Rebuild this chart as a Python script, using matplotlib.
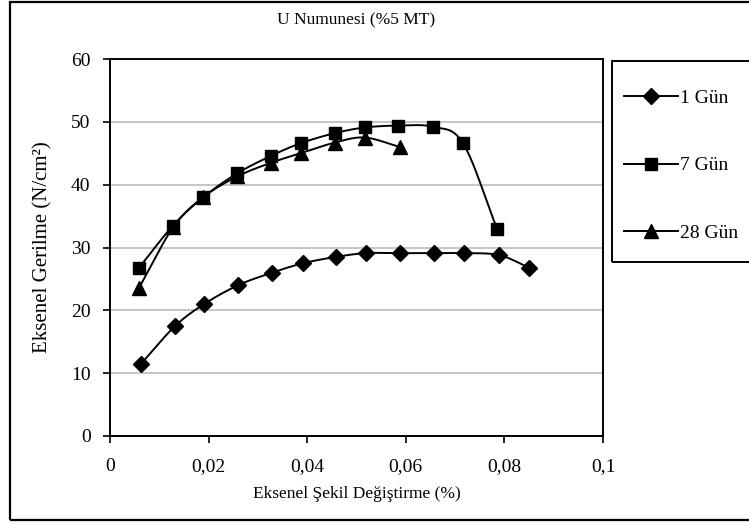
import numpy as np
import matplotlib
matplotlib.use("Agg")
import matplotlib.pyplot as plt
from matplotlib.lines import Line2D
from matplotlib.patches import Rectangle
from matplotlib.ticker import FuncFormatter, MultipleLocator

plt.rcParams['font.family'] = ['Liberation Serif', 'DejaVu Serif']

# Axial strain (%) and axial stress (N/cm2) for each curing age
strain_1 = [0.0063, 0.0132, 0.0191, 0.0260, 0.0329, 0.0392, 0.0458,
            0.0519, 0.0588, 0.0657, 0.0718, 0.0789, 0.0850]
stress_1 = [11.5, 17.5, 21.0, 24.0, 26.0, 27.5, 28.5,
            29.1, 29.1, 29.1, 29.1, 28.8, 26.8]

strain_7 = [0.0059, 0.0128, 0.0189, 0.0258, 0.0327, 0.0387, 0.0456,
            0.0517, 0.0585, 0.0655, 0.0716, 0.0785]
stress_7 = [26.8, 33.5, 38.0, 41.8, 44.6, 46.6, 48.2,
            49.1, 49.4, 49.2, 46.6, 33.0]

strain_28 = [0.0059, 0.0128, 0.0189, 0.0258, 0.0327, 0.0387, 0.0456,
             0.0517, 0.0588]
stress_28 = [23.6, 33.2, 38.0, 41.3, 43.5, 45.0, 46.7, 47.5, 46.0]

labels = ["1 Gün", "7 Gün", "28 Gün"]
markers = ["D", "s", "^"]
marker_sizes = [8.5, 8.5, 9.5]

title = "U Numunesi (%5 MT)"
xlabel = "Eksenel Şekil Değiştirme (%)"
ylabel = "Eksenel Gerilme (N/cm²)"


def smooth(x, y, n=20):
    """Catmull-Rom spline through the measured points."""
    x = np.asarray(x, float)
    y = np.asarray(y, float)
    px = np.concatenate([[2 * x[0] - x[1]], x, [2 * x[-1] - x[-2]]])
    py = np.concatenate([[2 * y[0] - y[1]], y, [2 * y[-1] - y[-2]]])
    xs, ys = [], []
    t = np.linspace(0, 1, n, endpoint=False)
    for i in range(1, len(px) - 2):
        for arr, out in ((px, xs), (py, ys)):
            p0, p1, p2, p3 = arr[i - 1], arr[i], arr[i + 1], arr[i + 2]
            seg = 0.5 * ((2 * p1) + (-p0 + p2) * t
                         + (2 * p0 - 5 * p1 + 4 * p2 - p3) * t ** 2
                         + (-p0 + 3 * p1 - 3 * p2 + p3) * t ** 3)
            out.extend(seg)
    xs.append(x[-1])
    ys.append(y[-1])
    return np.array(xs), np.array(ys)


W, H = 749, 524
fig = plt.figure(figsize=(W / 100, H / 100), dpi=100)
ax = fig.add_axes([110 / W, (H - 436) / H, (603 - 110) / W, (436 - 59) / H])

series = [(strain_1, stress_1), (strain_7, stress_7), (strain_28, stress_28)]
handles = []
for (xv, yv), lab, mk, ms in zip(series, labels, markers, marker_sizes):
    sx, sy = smooth(xv, yv)
    ax.plot(sx, sy, color="black", lw=1.4, zorder=3)
    ax.plot(xv, yv, linestyle="none", marker=mk, ms=ms, color="black", zorder=4)
    handles.append(Line2D([], [], color="black", lw=1.4, marker=mk, ms=ms))

ax.set_xlim(0, 0.1)
ax.set_ylim(0, 60)
ax.xaxis.set_major_locator(MultipleLocator(0.02))
ax.yaxis.set_major_locator(MultipleLocator(10))
ax.xaxis.set_major_formatter(FuncFormatter(lambda v, p: ("%g" % round(v, 4)).replace(".", ",")))
ax.grid(axis="y", color="#c0c0c0", lw=1.3)
ax.set_axisbelow(True)
for s in ax.spines.values():
    s.set_color("black")
    s.set_linewidth(1.4)
ax.tick_params(axis="both", direction="out", length=5, width=1.2,
               labelsize=14, colors="black")
ax.tick_params(axis="x", pad=11)
ax.tick_params(axis="y", pad=9)

ax.set_xlabel(xlabel, fontsize=12.5, labelpad=8)
ax.set_ylabel(ylabel, fontsize=15, labelpad=13)
fig.text(356 / W, 1 - 20 / H, title, ha="center", va="center", fontsize=12.5)

leg = fig.legend(handles, labels, loc="upper left",
                 bbox_to_anchor=(624 / W, 1 - 89 / H),
                 fontsize=14, frameon=False,
                 handlelength=2.8, handletextpad=0.1, labelspacing=2.58,
                 borderpad=0, borderaxespad=0)

# Legend box, running past the right edge of the chart
fig.add_artist(Rectangle((612 / W, (H - 262) / H), 0.3, (262 - 60.7) / H,
                         transform=fig.transFigure, fill=False,
                         edgecolor="black", lw=1.4, clip_on=False))

# Chart border
fig.add_artist(Rectangle((10 / W, 4 / H), 1.2, (H - 6) / H, transform=fig.transFigure,
                         fill=False, edgecolor="black", lw=1.6, clip_on=False))

fig.savefig("out.png", dpi=100)
